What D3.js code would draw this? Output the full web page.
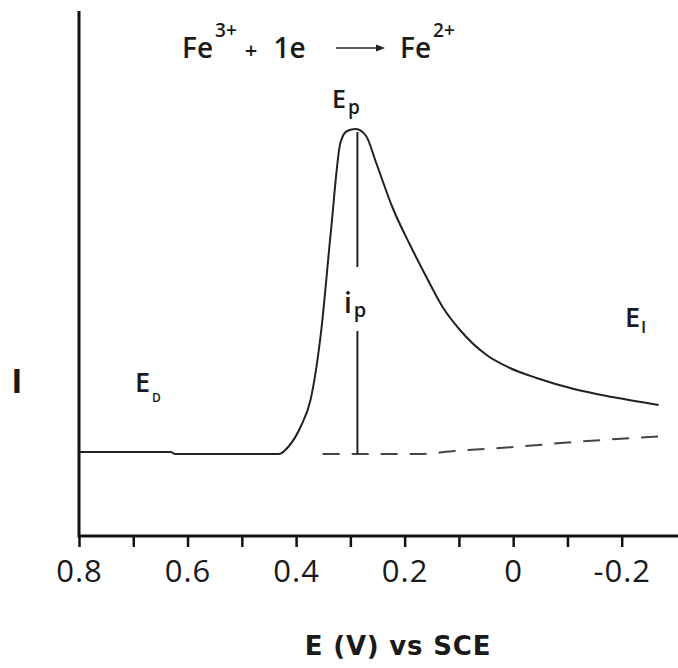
<!DOCTYPE html>
<html>
<head>
<meta charset="utf-8">
<style>
  body { margin: 0; background: #ffffff; }
  svg text { font-family: 'Open Sans', sans-serif; fill: #1a1a1a; }
  .curve { fill: none; stroke: #222; stroke-width: 2; }
  .base { fill: none; stroke: #444; stroke-width: 2; stroke-dasharray: 17 12; }
  .axis-line { stroke: #111; stroke-width: 3; }
  .lbl { font-weight: 600; }
</style>
</head>
<body>
<div id="chart"></div>
<script src="https://d3js.org/d3.v7.min.js"></script>
<script>
// potential (V vs SCE) and current (arbitrary units)
var scanE = [0.80, 0.631, 0.623, 0.432, 0.413, 0.391, 0.373, 0.354, 0.336, 0.318, 0.306, 0.290,
             0.271, 0.253, 0.222, 0.190, 0.159, 0.130, 0.098, 0.049, 0.006, -0.043, -0.112, -0.183, -0.268]
var scanI = [0.84, 0.84, 0.82, 0.82, 0.90, 1.10, 1.37, 2.04, 3.04, 3.94, 4.05, 4.07,
             4.00, 3.74, 3.28, 2.91, 2.58, 2.29, 2.06, 1.81, 1.68, 1.58, 1.47, 1.39, 1.31]

// extrapolated background current (dashed)
var baseE = [0.351, 0.172, 0.108, -0.001, -0.112, -0.283]
var baseI = [0.82, 0.82, 0.85, 0.89, 0.94, 1.00]

// peak
var peakE = 0.287, peakI = 4.04, peakBase = 0.82

var tickVals = [0.8, 0.7, 0.6, 0.5, 0.4, 0.3, 0.2, 0.1, 0, -0.1, -0.2]
var tickLabels = ["0.8", "", "0.6", "", "0.4", "", "0.2", "", "0", "", "-0.2"]

var width = 678, height = 668

var svg = d3.select("#chart").append("svg")
  .attr("width", width)
  .attr("height", height)

var x = d3.scaleLinear().domain([0.8, -0.3]).range([79, 676])
var y = d3.scaleLinear().domain([0, 5.25]).range([536, 11])

// axes
svg.append("line").attr("class", "axis-line")
  .attr("x1", x(0.8)).attr("x2", width).attr("y1", y(0)).attr("y2", y(0))
svg.append("line").attr("class", "axis-line")
  .attr("x1", x(0.8)).attr("x2", x(0.8)).attr("y1", y(5.25)).attr("y2", y(0) + 1.5)

var xAxis = d3.axisBottom(x)
  .tickValues(tickVals)
  .tickSize(11)
  .tickPadding(13)
  .tickFormat(function (d, i) { return tickLabels[i] })

var gx = svg.append("g")
  .attr("transform", "translate(0," + y(0) + ")")
  .call(xAxis)
gx.select(".domain").remove()
gx.selectAll(".tick line").attr("stroke", "#111").attr("stroke-width", 2.5)
gx.selectAll(".tick text")
  .style("font-size", "31px")
  .style("letter-spacing", "1px")
  .style("font-family", "'Open Sans', sans-serif")
  .attr("fill", "#2a2a2a")

// axis titles
svg.append("text")
  .attr("x", 398).attr("y", 655)
  .attr("text-anchor", "middle")
  .style("font-family", "'DejaVu Sans', sans-serif")
  .style("font-weight", "bold")
  .style("font-size", "26px")
  .style("letter-spacing", "0.8px")
  .text("E (V) vs SCE")

svg.append("text")
  .attr("x", 17).attr("y", 393)
  .attr("text-anchor", "middle")
  .style("font-weight", "bold")
  .style("font-size", "34px")
  .text("I")

// scan curve
var line = d3.line()
  .x(function (d) { return x(d[0]) })
  .y(function (d) { return y(d[1]) })
  .curve(d3.curveMonotoneX)

svg.append("path")
  .datum(d3.zip(scanE, scanI))
  .attr("class", "curve")
  .attr("d", line)

svg.append("path")
  .datum(d3.zip(baseE, baseI))
  .attr("class", "base")
  .attr("d", line)

// peak current marker, split around the i_p label
svg.append("line")
  .attr("x1", x(peakE)).attr("x2", x(peakE))
  .attr("y1", y(peakI)).attr("y2", y(2.69))
  .attr("stroke", "#222").attr("stroke-width", 2)
svg.append("line")
  .attr("x1", x(peakE)).attr("x2", x(peakE))
  .attr("y1", y(2.05)).attr("y2", y(peakBase))
  .attr("stroke", "#222").attr("stroke-width", 2)

// labels with subscripts
function subLabel(px, py, main, sub, size, subSize, dy, dx) {
  var t = svg.append("text")
    .attr("x", px).attr("y", py)
    .attr("class", "lbl")
    .style("font-size", size + "px")
  t.append("tspan").text(main)
  t.append("tspan")
    .attr("dy", dy)
    .attr("dx", dx || 1)
    .style("font-size", subSize + "px")
    .text(sub)
  return t
}

subLabel(332, 108, "E", "p", 25, 19, 6, 2)
subLabel(344, 313, "i", "p", 28, 20, 4, 2)
subLabel(135, 392, "E", "D", 27, 12, 10, 2)
subLabel(625, 327, "E", "I", 27, 17, 6, 1)

// reaction equation
var eq = svg.append("text")
  .attr("x", 182).attr("y", 58)
  .attr("class", "lbl")
  .style("font-size", "28px")
eq.append("tspan").text("Fe")
eq.append("tspan").attr("dy", -21).attr("dx", 2).style("font-size", "19px").text("3+")
eq.append("tspan").attr("dy", 21).attr("dx", 8).style("font-size", "22px").text("+")
eq.append("tspan").attr("dx", 16).text("1e")

svg.append("line")
  .attr("x1", 336).attr("x2", 377).attr("y1", 48).attr("y2", 48)
  .attr("stroke", "#222").attr("stroke-width", 1.5)
svg.append("path")
  .attr("d", "M385,48 L376,44.5 L376,51.5 Z")
  .attr("fill", "#222")

var eq2 = svg.append("text")
  .attr("x", 400).attr("y", 58)
  .attr("class", "lbl")
  .style("font-size", "28px")
eq2.append("tspan").text("Fe")
eq2.append("tspan").attr("dy", -21).attr("dx", 2).style("font-size", "19px").text("2+")
</script>
</body>
</html>
